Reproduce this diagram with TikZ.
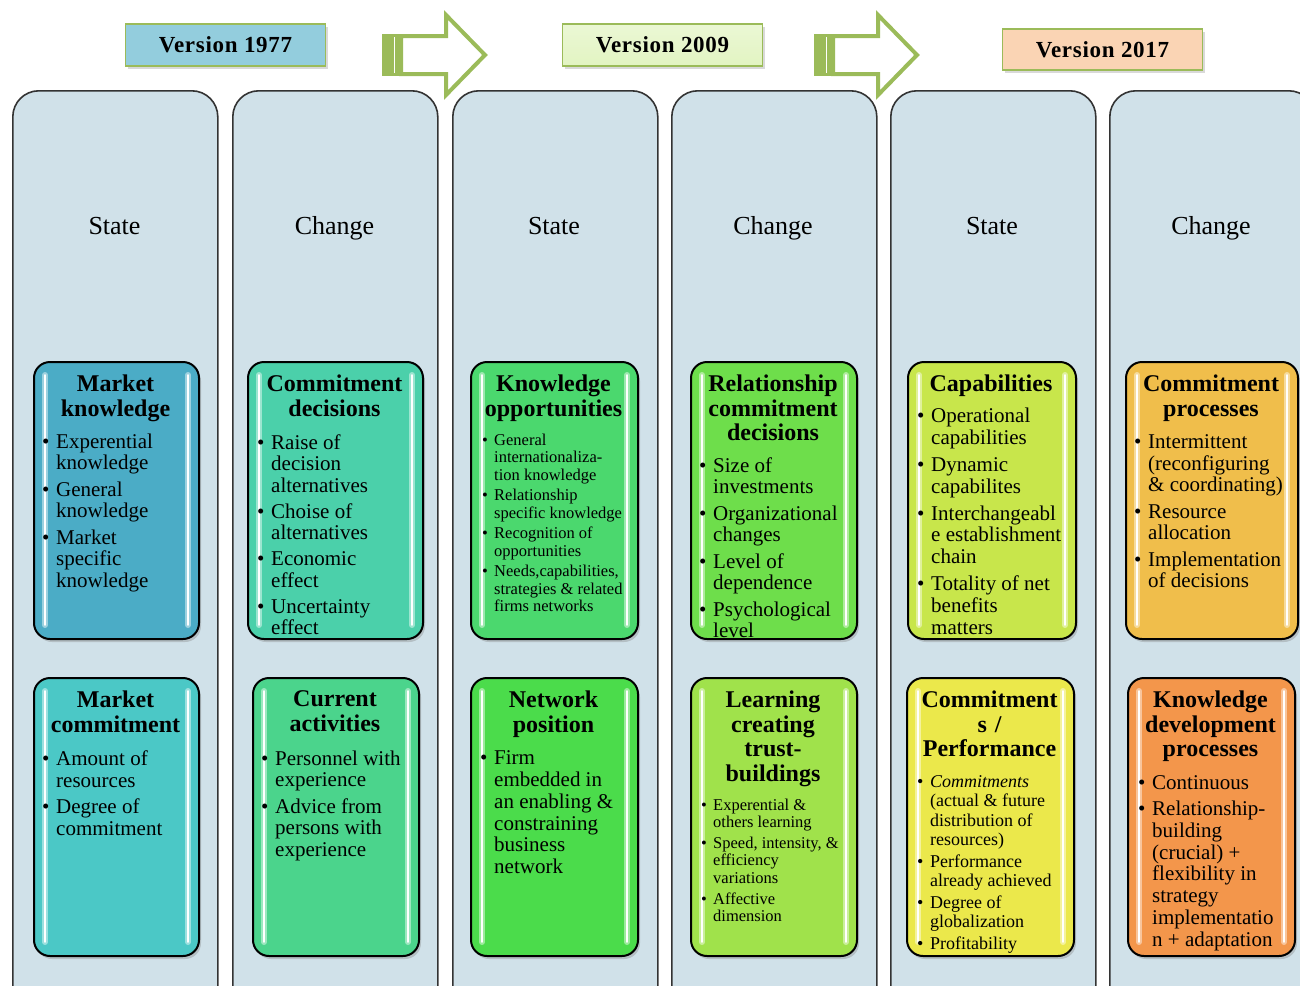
\documentclass[tikz,border=0pt]{standalone}
\usepackage{fontspec}
\setmainfont{Liberation Serif}
\usetikzlibrary{shadows}

% palette
\definecolor{colfill}{HTML}{D0E1E9}
\definecolor{arrowgreen}{HTML}{9BBB59}
\definecolor{verA}{HTML}{93CDDD}
\definecolor{verB}{HTML}{E2F4C2}
\definecolor{verC}{HTML}{FAD4B4}
\definecolor{mknow}{HTML}{4BACC6}
\definecolor{cdec}{HTML}{4BD0AA}
\definecolor{kopp}{HTML}{4BD86E}
\definecolor{rcd}{HTML}{6EDE4B}
\definecolor{capa}{HTML}{C8E64B}
\definecolor{cproc}{HTML}{F0BE4B}
\definecolor{mcom}{HTML}{4BC8C6}
\definecolor{cact}{HTML}{4BD48C}
\definecolor{npos}{HTML}{4BDC4B}
\definecolor{lctb}{HTML}{A0E24B}
\definecolor{cperf}{HTML}{EBE84B}
\definecolor{kdev}{HTML}{F3964B}

% bulleted lists with a hanging indent, set in a top-aligned box
\newlength\bhang
\newcommand\bul{\par\noindent\hangindent=\bhang\hangafter=1\makebox[\bhang][l]{\textbullet}\ignorespaces}
\newcommand\blist[1]{\vtop{\hsize=210pt\raggedright\parindent=0pt #1\par}}

\tikzset{
  column/.style={draw=black!80, line width=1.6pt, fill=colfill, rounded corners=26pt,
    anchor=north west, minimum width=205pt, minimum height=940pt, inner sep=0pt},
  colhead/.style={anchor=base, inner sep=0pt, font=\fontsize{26}{30}\selectfont},
  verbox/.style={draw=arrowgreen, line width=1.6pt, minimum width=200pt, minimum height=42pt,
    inner sep=0pt, font=\fontsize{23}{26}\selectfont\bfseries\addfontfeatures{LetterSpace=3},
    drop shadow={shadow xshift=2pt, shadow yshift=-2.5pt, opacity=.3}},
  arrowline/.style={draw=arrowgreen, line width=4pt, fill=white, line join=miter},
  ibox/.style={draw=black, line width=2pt, rounded corners=16pt, anchor=north west, inner sep=0pt,
    drop shadow={shadow xshift=2pt, shadow yshift=-3pt, opacity=.35}},
  glow/.style={draw=white, opacity=.45, line width=6pt, line cap=round},
  core/.style={draw=white, line width=1.8pt, line cap=round},
  ttl/.style={anchor=north, align=center, inner sep=0pt, text width=190pt,
    font=\fontsize{24}{24.8}\selectfont\bfseries},
  blt/.style n args={4}{anchor=north west, inner sep=0pt,
    font=\fontsize{#1}{#2}\selectfont\setlength{\parskip}{#3}\setlength{\bhang}{#4}},
}

% glossy highlight strips inside a coloured box
\newcommand\boxgloss[1]{%
  \draw[glow] ([xshift=12pt,yshift=-14pt]#1.north west) -- ([xshift=12pt,yshift=15pt]#1.south west);
  \draw[core] ([xshift=12pt,yshift=-14pt]#1.north west) -- ([xshift=12pt,yshift=15pt]#1.south west);
  \draw[glow] ([xshift=-12pt,yshift=-14pt]#1.north east) -- ([xshift=-12pt,yshift=15pt]#1.south east);
  \draw[core] ([xshift=-12pt,yshift=-14pt]#1.north east) -- ([xshift=-12pt,yshift=15pt]#1.south east);
}
% coloured box: name, x, y, width, height, colour
\newcommand\ibox[6]{%
  \node[ibox, fill=#6, minimum width=#4pt, minimum height=#5pt] (#1) at (#2,#3) {};
  \boxgloss{#1}%
}
% outlined block arrow with striped tail
\newcommand\bigarrow[1]{%
  \begin{scope}[xshift=#1pt]
    \draw[arrowline] (401,36) -- (446,36) -- (446,15) -- (485,55) -- (446,95) -- (446,74) -- (401,74) -- cycle;
    \fill[arrowgreen] (382,34) rectangle (402,76);
    \draw[white, line width=1.2pt] (394.5,37) -- (394.5,73);
  \end{scope}%
}

\begin{document}
\begin{tikzpicture}[x=1pt, y=-1pt]
\useasboundingbox (0,0) rectangle (1300,985);

% columns
\node[column] (c1) at (12,90) {};
\node[column] (c2) at (232,90) {};
\node[column] (c3) at (452,90) {};
\node[column] (c4) at (671,90) {};
\node[column] (c5) at (890,90) {};
\node[column] (c6) at (1109,90) {};

\node[colhead] (h1) at (114.5,234) {State};
\node[colhead] (h2) at (334.5,234) {Change};
\node[colhead] (h3) at (554,234) {State};
\node[colhead] (h4) at (773,234) {Change};
\node[colhead] (h5) at (992,234) {State};
\node[colhead] (h6) at (1211,234) {Change};

% version labels
\node[verbox, fill=verA] (v1) at (225.5,45) {Version 1977};
\node[verbox, top color=verB!70!white, bottom color=verB] (v2) at (662.5,45) {Version 2009};
\node[verbox, fill=verC, minimum height=41pt] (v3) at (1102.5,49.5) {Version 2017};

\bigarrow{0}
\bigarrow{432}

% first row of boxes
\ibox{mk}{33}{361}{165}{277}{mknow}
\ibox{cd}{247}{361}{175}{277}{cdec}
\ibox{ko}{470}{361}{167}{277}{kopp}
\ibox{rc}{690}{361}{166}{277}{rcd}
\ibox{ca}{907}{361}{168}{277}{capa}
\ibox{cp}{1125}{361}{172}{277}{cproc}

% second row of boxes
\ibox{mc}{33}{677}{165}{278}{mcom}
\ibox{ac}{252}{677}{166}{278}{cact}
\ibox{np}{470}{677}{167}{278}{npos}
\ibox{lt}{690}{677}{166}{278}{lctb}
\ibox{pf}{906}{677}{167}{278}{cperf}
\ibox{kd}{1127}{677}{167}{278}{kdev}

% titles
\node[ttl] (mk-t) at (115.5,374.5) {Market\\knowledge};
\node[ttl] (cd-t) at (334.5,374.5) {Commitment\\decisions};
\node[ttl] (ko-t) at (553.5,374.5) {Knowledge\\opportunities};
\node[ttl] (rc-t) at (773,374.5) {Relationship\\commitment\\decisions};
\node[ttl] (ca-t) at (991,374.5) {Capabilities};
\node[ttl] (cp-t) at (1211,374.5) {Commitment\\processes};

\node[ttl] (mc-t) at (115.5,690.5) {Market\\commitment};
\node[ttl] (ac-t) at (335,690.5) {Current\\activities};
\node[ttl] (np-t) at (553.5,690.5) {Network\\position};
\node[ttl] (lt-t) at (773,690.5) {Learning\\creating\\trust-\\buildings};
\node[ttl] (pf-t) at (989.5,690.5) {Commitment\\s /\\Performance};
\node[ttl] (kd-t) at (1210.5,690.5) {Knowledge\\development\\processes};

% bullet lists, first row
\node[blt={21}{21.5}{5pt}{14pt}] (mk-b) at (42,433.5) {\blist{%
  \bul Experential\newline knowledge
  \bul General\newline knowledge
  \bul Market\newline specific\newline knowledge}};
\node[blt={21}{21.5}{4.5pt}{14pt}] (cd-b) at (257,434.5) {\blist{%
  \bul Raise of\newline decision\newline alternatives
  \bul Choise of\newline alternatives
  \bul Economic\newline effect
  \bul Uncertainty\newline effect}};
\node[blt={16.5}{17.5}{3pt}{12pt}] (ko-b) at (482,433.6) {\blist{%
  \bul General\newline internationaliza-\newline tion knowledge
  \bul Relationship\newline specific knowledge
  \bul Recognition of\newline opportunities
  \bul Needs,capabilities,\newline strategies \& related\newline firms networks}};
\node[blt={21}{21.5}{5pt}{14pt}] (rc-b) at (699,457.5) {\blist{%
  \bul Size of\newline investments
  \bul Organizational\newline changes
  \bul Level of\newline dependence
  \bul Psychological\newline level}};
\node[blt={21}{21.8}{5pt}{14pt}] (ca-b) at (917,408.2) {\blist{%
  \bul Operational\newline capabilities
  \bul Dynamic\newline capabilites
  \bul Interchangeabl\newline e establishment\newline chain
  \bul Totality of net\newline benefits\newline matters}};
\node[blt={21}{21.5}{5pt}{14pt}] (cp-b) at (1134,434.5) {\blist{%
  \bul Intermittent\newline (reconfiguring\newline \& coordinating)
  \bul Resource\newline allocation
  \bul Implementation\newline of decisions}};

% bullet lists, second row
\node[blt={21}{21.7}{4.5pt}{14pt}] (mc-b) at (42,750.5) {\blist{%
  \bul Amount of\newline resources
  \bul Degree of\newline commitment}};
\node[blt={21}{21.7}{4.5pt}{14pt}] (ac-b) at (261,750.5) {\blist{%
  \bul Personnel with\newline experience
  \bul Advice from\newline persons with\newline experience}};
\node[blt={21}{21.8}{4.5pt}{14pt}] (np-b) at (480,750.5) {\blist{%
  \bul Firm\newline embedded in\newline an enabling \&\newline constraining\newline business\newline network}};
\node[blt={16.5}{17.2}{4pt}{12pt}] (lt-b) at (701,798.6) {\blist{%
  \bul Experential \&\newline others learning
  \bul Speed, intensity, \&\newline efficiency\newline variations
  \bul Affective\newline dimension}};
\node[blt={18}{19.3}{2.5pt}{13pt}] (pf-b) at (917,775.5) {\blist{%
  \bul \textit{Commitments}\newline (actual \& future\newline distribution of\newline resources)
  \bul Performance\newline already achieved
  \bul Degree of\newline globalization
  \bul Profitability}};
\node[blt={21}{21.7}{4.5pt}{14pt}] (kd-b) at (1138,775.5) {\blist{%
  \bul Continuous
  \bul Relationship-\newline building\newline (crucial) +\newline flexibility in\newline strategy\newline implementatio\newline n + adaptation}};
\end{tikzpicture}
\end{document}
